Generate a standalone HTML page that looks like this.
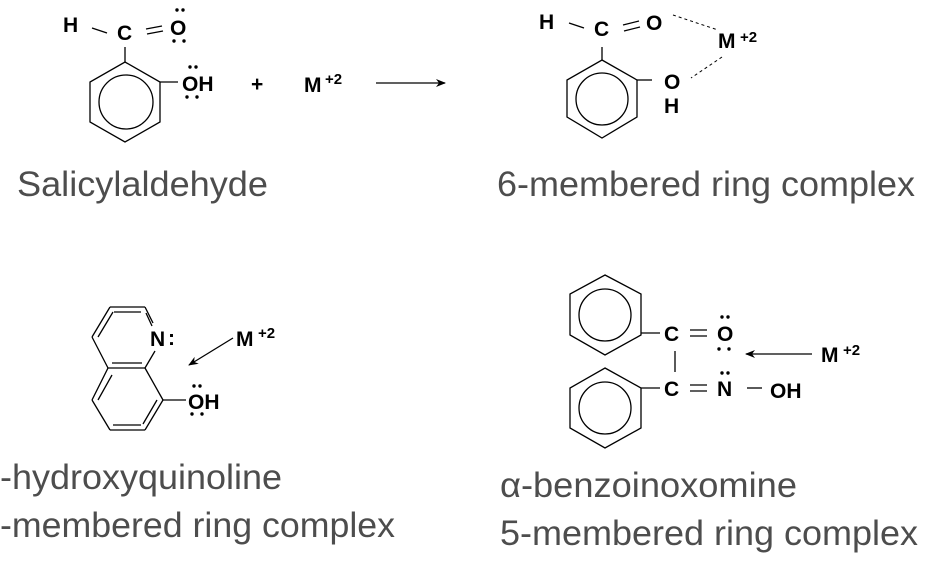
<!DOCTYPE html>
<html><head><meta charset="utf-8"><style>
html,body{margin:0;padding:0;background:#fff;}
svg{display:block;}
.a{font-family:"Liberation Sans",sans-serif;font-weight:bold;font-size:21px;fill:#000;}
.s{font-family:"Liberation Sans",sans-serif;font-weight:bold;font-size:15px;fill:#000;}
.L{font-family:"Liberation Sans",sans-serif;font-size:35px;fill:#4d4d4d;}
</style></head><body>
<svg width="936" height="566" viewBox="0 0 936 566" xmlns="http://www.w3.org/2000/svg">
<defs><marker id="ah" viewBox="0 0 10 10" refX="9" refY="5" markerWidth="12" markerHeight="10" markerUnits="userSpaceOnUse" orient="auto"><path d="M0,1 L10,5 L0,9 L3,5 Z" fill="#000"/></marker></defs>
<g stroke="#000" stroke-width="1.3" fill="none">
<polygon points="125,62 160,82 160,122 125,142 90,122 90,82"/>
<circle cx="126" cy="102" r="27"/>
<line x1="125" y1="62" x2="125" y2="47"/>
<line x1="92" y1="28" x2="107" y2="33"/>
<line x1="146" y1="29" x2="162" y2="26"/><line x1="147" y1="34" x2="163" y2="31"/>
<line x1="160" y1="82" x2="178" y2="82"/>
<line x1="376" y1="83" x2="445" y2="83" marker-end="url(#ah)"/>
<polygon points="602,60 637,80 637,117 602,138 567,117 567,80"/>
<circle cx="602" cy="99" r="26"/>
<line x1="602" y1="60" x2="602" y2="47"/>
<line x1="569" y1="23" x2="584" y2="28"/>
<line x1="623" y1="25" x2="639" y2="21"/><line x1="624" y1="31" x2="640" y2="27"/>
<line x1="637" y1="80" x2="652" y2="80"/>
<line x1="673" y1="15" x2="718" y2="30" stroke-dasharray="3,3" stroke-width="1"/>
<line x1="722" y1="57" x2="691" y2="78" stroke-dasharray="3,3" stroke-width="1"/>
<line x1="110" y1="307" x2="145" y2="307"/><line x1="145" y1="307" x2="153" y2="323"/>
<line x1="110" y1="307" x2="92" y2="337"/><line x1="92" y1="337" x2="108" y2="368"/>
<line x1="108" y1="368" x2="145" y2="368"/><line x1="145" y1="368" x2="155" y2="351"/>
<line x1="114" y1="312" x2="141" y2="312"/><line x1="98" y1="337" x2="113" y2="312"/>
<line x1="146" y1="313" x2="152" y2="326"/>
<line x1="112" y1="363" x2="142" y2="363"/>
<line x1="145" y1="368" x2="163" y2="400"/><line x1="163" y1="400" x2="145" y2="430"/>
<line x1="145" y1="430" x2="110" y2="430"/><line x1="110" y1="430" x2="92" y2="400"/><line x1="92" y1="400" x2="108" y2="368"/>
<line x1="141" y1="425" x2="113" y2="425"/><line x1="98" y1="400" x2="112" y2="375"/><line x1="157" y1="400" x2="143" y2="424"/>
<line x1="163" y1="400" x2="186" y2="400"/>
<line x1="233" y1="338" x2="189" y2="365" marker-end="url(#ah)"/>
<polygon points="605,275 641,294 641,335 605,355 570,335 570,294"/>
<circle cx="605" cy="315" r="26"/>
<polygon points="605,368 641,388 641,428 605,448 570,428 570,388"/>
<circle cx="605" cy="408" r="26"/>
<line x1="641" y1="333" x2="660" y2="333"/>
<line x1="641" y1="388" x2="660" y2="388"/>
<line x1="675" y1="351" x2="675" y2="372"/>
<line x1="690" y1="330" x2="707" y2="330"/><line x1="690" y1="336" x2="707" y2="336"/>
<line x1="690" y1="385" x2="707" y2="385"/><line x1="690" y1="391" x2="707" y2="391"/>
<line x1="747" y1="388" x2="762" y2="388"/>
<line x1="812" y1="354" x2="746" y2="354" marker-end="url(#ah)"/>
</g>
<g fill="#000">
<circle cx="177" cy="10" r="1.7"/><circle cx="183" cy="10" r="1.7"/><circle cx="174" cy="41" r="1.7"/><circle cx="184" cy="41" r="1.7"/>
<circle cx="190" cy="67" r="1.7"/><circle cx="196" cy="67" r="1.7"/><circle cx="187" cy="97" r="1.7"/><circle cx="197" cy="97" r="1.7"/>
<circle cx="194" cy="386" r="1.7"/><circle cx="200" cy="386" r="1.7"/><circle cx="192" cy="414" r="1.7"/><circle cx="202" cy="414" r="1.7"/>
<circle cx="722" cy="317" r="1.7"/><circle cx="728" cy="317" r="1.7"/><circle cx="719" cy="349" r="1.7"/><circle cx="729" cy="349" r="1.7"/>
<circle cx="722" cy="373" r="1.7"/><circle cx="728" cy="373" r="1.7"/>
</g>
<text class="a" x="63" y="32">H</text>
<text class="a" x="117" y="40">C</text>
<text class="a" x="170" y="35">O</text>
<text class="a" x="182" y="91">OH</text>
<text class="a" x="251" y="91">+</text>
<text class="a" x="304" y="92">M</text><text class="s" x="325" y="84">+2</text>
<text class="a" x="539" y="29">H</text>
<text class="a" x="594" y="36">C</text>
<text class="a" x="646" y="30">O</text>
<text class="a" x="718" y="48">M</text><text class="s" x="740" y="42">+2</text>
<text class="a" x="664" y="89">O</text>
<text class="a" x="664" y="113">H</text>
<text class="a" x="150" y="346">N</text><text class="a" x="168" y="345">:</text>
<text class="a" x="236" y="346">M</text><text class="s" x="258" y="338">+2</text>
<text class="a" x="188" y="409">OH</text>
<text class="a" x="664" y="341">C</text>
<text class="a" x="717" y="341">O</text>
<text class="a" x="664" y="396">C</text>
<text class="a" x="717" y="396">N</text>
<text class="a" x="770" y="398">OH</text>
<text class="a" x="821" y="362">M</text><text class="s" x="843" y="355">+2</text>
<text class="L" x="17" y="196" textLength="251" lengthAdjust="spacingAndGlyphs">Salicylaldehyde</text>
<text class="L" x="497" y="196" textLength="418" lengthAdjust="spacingAndGlyphs">6-membered ring complex</text>
<text class="L" x="0" y="489" textLength="282" lengthAdjust="spacingAndGlyphs">-hydroxyquinoline</text>
<text class="L" x="0" y="537" textLength="395" lengthAdjust="spacingAndGlyphs">-membered ring complex</text>
<text class="L" x="500" y="497" textLength="297" lengthAdjust="spacingAndGlyphs">α-benzoinoxomine</text>
<text class="L" x="500" y="545" textLength="418" lengthAdjust="spacingAndGlyphs">5-membered ring complex</text>
</svg>
</body></html>
